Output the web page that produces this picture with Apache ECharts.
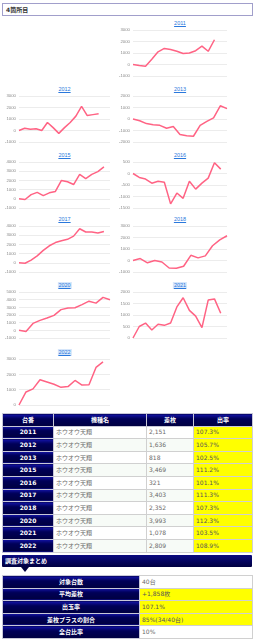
<!DOCTYPE html>
<html>
<head>
<meta charset="utf-8">
<script src="https://cdn.jsdelivr.net/npm/echarts@6/dist/echarts.min.js"></script>
<style>
body { margin:0; width:257px; height:640px; background:#fff; position:relative; overflow:hidden; font-family:"DejaVu Sans","Noto Sans CJK JP",sans-serif; }
.head { position:absolute; left:2px; top:3px; width:246px; height:11px; border:1px solid #a19fcb; font-size:6px; font-weight:bold; line-height:11px; padding-left:3px; color:#333; }
.ttl { position:absolute; font-family:"Liberation Sans",Arial,sans-serif; font-size:5.5px; line-height:7px; color:#2a78dc; text-decoration:underline; transform:translateX(-50%); padding:0 1px; }
.ttl.hl { background:#d6e6fa; }
.ch { position:absolute; height:50px; }
table { position:absolute; border-collapse:collapse; table-layout:fixed; font-size:6px; }
td, th { border:1px solid #d0d0d0; padding:0 2px; height:11.6px; line-height:8px; overflow:hidden; white-space:nowrap; }
.nv { background:linear-gradient(#1414a8 0%, #000058 35%, #000040 100%); color:#fff; font-weight:bold; text-align:center; border-color:#c8c8d8; }
.tx { color:#6a6a6a; background:#fff; }
.tx2 { color:#6a6a6a; background:#f7fbf7; }
.jp { font-family:"Noto Sans CJK JP",sans-serif; }
.yl { background:#ffff00; color:#555; }
.bar { position:absolute; left:2px; top:555px; width:247px; height:12px; line-height:12px; padding-left:3px; background:linear-gradient(#0a0a80, #000040); color:#fff; font-size:6px; font-weight:bold; border-radius:1px; }
.tri { position:absolute; left:21px; top:567px; width:0; height:0; border-left:4px solid transparent; border-right:4px solid transparent; border-top:5px solid #000040; }
</style>
</head>
<body>
<div class="head">4箇所目</div>
<div id="charts"></div>
<table id="t1" style="left:2px;top:413px;width:250px;"></table>
<div class="bar">調査対象まとめ</div>
<div class="tri"></div>
<table id="t2" style="left:2px;top:575px;width:250px;"></table>
<script>
// chart data (差枚推移)
var years = ['2011', '2012', '2013', '2015', '2016', '2017', '2018', '2020', '2021', '2022'];
var days = ['1', '2', '3', '4', '5', '6', '7', '8', '9', '10', '11', '12', '13', '14', '15', '16', '17'];
var slotCounts = [16, 17, 15, 16, 16, 16, 14, 14, 16, 14];

var v2011 = [0, -80, -150, 450, 1100, 1400, 1300, 1150, 950, 1000, 1200, 1600, 1150, 2151];
var v2012 = [0, 200, 100, 150, 0, 700, 250, -250, 250, 700, 1250, 2100, 1300, 1380, 1450];
var v2013 = [0, -150, -400, -500, -550, -800, -650, -1350, -1450, -1500, -550, -200, 100, 1150, 900];
var v2015 = [0, -80, 450, 700, 350, 650, 800, 2000, 1850, 1550, 2650, 2200, 2650, 2950, 3469];
var v2016 = [0, -170, -240, -420, -340, -380, -1320, -850, -1080, -340, -680, -420, -200, 470, 190];
var v2017 = [0, -50, 300, 750, 1350, 1850, 2200, 2400, 2550, 2900, 3700, 3350, 3350, 3250, 3403];
var v2018 = [0, 170, -200, 0, -130, -650, -680, -500, 450, 230, 400, 1280, 1800, 2150];
var v2020 = [0, -150, 900, 1300, 1600, 1950, 2700, 2900, 2950, 3350, 3800, 3550, 4300, 3993];
var v2021 = [0, 500, 650, 350, 600, 550, 650, 1350, 1750, 1200, 950, 450, 1650, 1700, 1078];
var v2022 = [0, 850, 1050, 1650, 1500, 1350, 1150, 1200, 1600, 1300, 1320, 2450, 2809];

var seriesByYear = [v2011, v2012, v2013, v2015, v2016, v2017, v2018, v2020, v2021, v2022];
var yMin = [-1000, -1000, -2000, -1000, -1500, -1000, -1000, -1000, 0, 0];
var yMax = [3000, 3000, 2000, 4000, 500, 4000, 3000, 5000, 2000, 3000];
var yStep = [1000, 1000, 1000, 1000, 500, 1000, 1000, 1000, 500, 1000];

// table data
var tableHead = ['台番', '機種名', '差枚', '出率'];
var machineName = 'ホウオウ天翔';
var diffs = ['2,151', '1,636', '818', '3,469', '321', '3,403', '2,352', '3,993', '1,078', '2,809'];
var rates = ['107.3%', '105.7%', '102.5%', '111.2%', '101.1%', '111.3%', '107.3%', '112.3%', '103.5%', '108.9%'];

var summaryLabels = ['対象台数', '平均差枚', '出玉率', '差枚プラスの割合', '全台比率'];
var summaryValues = ['40台', '+1,858枚', '107.1%', '85%(34/40台)', '10%'];
var summaryYellow = [false, true, true, true, false];

// layout: column (0 left / 1 right) and row of each small chart
var cellCol = [1, 0, 1, 0, 1, 0, 1, 0, 1, 0];
var cellRow = [0, 1, 1, 2, 2, 3, 3, 4, 4, 5];
var plotTops = [30, 96, 162, 226, 292, 359];
var highlighted = ['2020', '2021', '2022'];

var box = document.getElementById('charts');
years.forEach(function (year, i) {
    var col = cellCol[i];
    var top = plotTops[cellRow[i]];
    var left = col === 0 ? 0 : 116;
    var gridLeft = col === 0 ? 19 : 17;
    var gridWidth = col === 0 ? 91 : 94;

    var t = document.createElement('a');
    t.className = 'ttl' + (highlighted.indexOf(year) >= 0 ? ' hl' : '');
    t.textContent = year;
    t.style.left = (left + gridLeft + gridWidth / 2) + 'px';
    t.style.top = (top - 10) + 'px';
    box.appendChild(t);

    var el = document.createElement('div');
    el.className = 'ch';
    el.style.left = left + 'px';
    el.style.top = (top - 2) + 'px';
    el.style.width = (col === 0 ? 116 : 118) + 'px';
    box.appendChild(el);

    var chart = echarts.init(el);
    chart.setOption({
        animation: false,
        grid: { left: gridLeft, top: 2, width: gridWidth, height: 46 },
        xAxis: {
            type: 'category',
            data: days.slice(0, slotCounts[i]),
            boundaryGap: false,
            axisLine: { show: false },
            axisTick: { show: false },
            axisLabel: { show: false },
            splitLine: { show: false }
        },
        yAxis: {
            type: 'value',
            min: yMin[i],
            max: yMax[i],
            interval: yStep[i],
            axisLabel: {
                fontSize: 4.3, color: '#8a8a8a', margin: 3, fontFamily: 'Liberation Sans',
                formatter: function (v) { return String(v); }
            },
            splitLine: { lineStyle: { color: '#ececec', width: 1 } }
        },
        series: [{
            type: 'line',
            data: seriesByYear[i],
            showSymbol: false,
            lineStyle: { color: 'rgb(255,99,132)', width: 1.5 },
            itemStyle: { color: 'rgb(255,99,132)' }
        }]
    });
});

// result table
var t1 = document.getElementById('t1');
var html = '<colgroup><col style="width:51px"><col style="width:93px"><col style="width:47px"><col style="width:59px"></colgroup>';
html += '<tr>' + tableHead.map(function (h) { return '<th class="nv">' + h + '</th>'; }).join('') + '</tr>';
years.forEach(function (year, i) {
    var cls = i % 2 === 0 ? 'tx' : 'tx2';
    html += '<tr><td class="nv">' + year + '</td><td class="' + cls + ' jp">' + machineName + '</td><td class="' + cls + '">' + diffs[i] + '</td><td class="yl">' + rates[i] + '</td></tr>';
});
t1.innerHTML = html;

// summary table
var t2 = document.getElementById('t2');
var html2 = '<colgroup><col style="width:137px"><col style="width:113px"></colgroup>';
summaryLabels.forEach(function (label, i) {
    html2 += '<tr><td class="nv">' + label + '</td><td class="' + (summaryYellow[i] ? 'yl' : 'tx') + '">' + summaryValues[i] + '</td></tr>';
});
t2.innerHTML = html2;
</script>
</body>
</html>
